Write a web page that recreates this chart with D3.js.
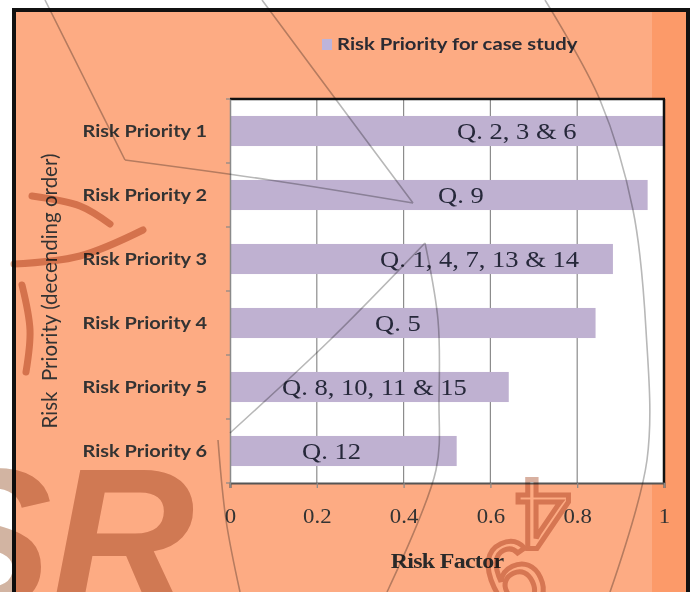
<!DOCTYPE html>
<html>
<head>
<meta charset="utf-8">
<script src="https://cdn.jsdelivr.net/npm/d3@7"></script>
<style>
  html, body { margin: 0; padding: 0; background: #fff; }
  svg { display: block; }
</style>
</head>
<body>
<svg id="chart" width="695" height="592"></svg>
<script>
// Risk priorities and the questionnaire items that fall in each
const categories = ["Risk Priority 1", "Risk Priority 2", "Risk Priority 3",
                    "Risk Priority 4", "Risk Priority 5", "Risk Priority 6"];
const riskFactor = [1.0, 0.96, 0.88, 0.84, 0.64, 0.52];
const questionGroups = ["Q. 2, 3 & 6", "Q. 9", "Q. 1, 4, 7, 13 & 14",
                        "Q. 5", "Q. 8, 10, 11 & 15", "Q. 12"];
const xTickValues = [0, 0.2, 0.4, 0.6, 0.8, 1];
const seriesName = "Risk Priority for case study";
const xTitle = "Risk Factor";
const yTitle = "Risk  Priority (decending order)";

// layout
const W = 695, H = 592;
const plot = { left: 230, right: 664, top: 99, bottom: 483 };
const stretch = 1.14;            // the whole figure is set slightly wide
// hand-placed offsets of each text box from the start of its bar
const labelInset = [227, 208, 150, 145, 52, 72];

const svg = d3.select("#chart");

// place a text at (px, py) widened horizontally about its anchor
function wide(sel, px, py) {
  return sel.attr("x", 0).attr("y", 0)
    .attr("transform", `translate(${px},${py}) scale(${stretch},1)`);
}

// page + chart area
svg.append("rect").attr("width", W).attr("height", H).attr("fill", "#ffffff");
svg.append("rect").attr("x", 14).attr("y", 10).attr("width", 674).attr("height", 620)
  .attr("fill", "#FDAB83").attr("stroke", "#111").attr("stroke-width", 4);
svg.append("rect").attr("x", 652).attr("y", 12).attr("width", 34).attr("height", 600)
  .attr("fill", "#FC9A69");

const x = d3.scaleLinear().domain([0, 1]).range([plot.left, plot.right]);
const y = d3.scaleBand().domain(categories).range([plot.top, plot.bottom])
  .paddingInner(0.53).paddingOuter(0.265);

// plot background
svg.append("rect").attr("x", plot.left).attr("y", plot.top)
  .attr("width", plot.right - plot.left).attr("height", plot.bottom - plot.top)
  .attr("fill", "#ffffff");

// vertical gridlines
svg.append("g").selectAll("line").data(xTickValues.filter(v => v > 0 && v < 1)).join("line")
  .attr("x1", d => x(d)).attr("x2", d => x(d))
  .attr("y1", plot.top).attr("y2", plot.bottom)
  .attr("stroke", "#8c8c8c").attr("stroke-width", 1.2);

// bars
const rows = categories.map((c, i) => ({ c, v: riskFactor[i], q: questionGroups[i], i }));
svg.append("g").selectAll("rect").data(rows).join("rect")
  .attr("x", x(0)).attr("y", d => y(d.c))
  .attr("width", d => x(d.v) - x(0) + 1).attr("height", y.bandwidth())
  .attr("fill", "#BFB1D1");

// question labels inside the bars
svg.append("g").selectAll("text").data(rows).join("text")
  .each(function (d) {
    wide(d3.select(this), x(0) + labelInset[d.i], y(d.c) + y.bandwidth() / 2 + 8);
  })
  .attr("font-family", "'Liberation Serif', 'Times New Roman', serif")
  .attr("font-size", 23.3).attr("fill", "#26283a")
  .text(d => d.q);

// plot frame: dark top/right, grey axis lines left/bottom
svg.append("line").attr("x1", plot.left).attr("x2", plot.right + 1)
  .attr("y1", plot.top).attr("y2", plot.top).attr("stroke", "#111").attr("stroke-width", 2.5);
svg.append("line").attr("x1", plot.right).attr("x2", plot.right)
  .attr("y1", plot.top).attr("y2", plot.bottom).attr("stroke", "#111").attr("stroke-width", 2.5);

// x axis
const xAxis = d3.axisBottom(x).tickValues(xTickValues).tickSize(5).tickPadding(22)
  .tickFormat(d => d === 0 || d === 1 ? String(d) : d3.format(".1f")(d));
const gx = svg.append("g").attr("transform", `translate(0,${plot.bottom})`).call(xAxis);
gx.select(".domain").attr("stroke", "#555").attr("stroke-width", 2);
gx.selectAll(".tick line").attr("stroke", "#888").attr("stroke-width", 1.2);
gx.selectAll(".tick text")
  .attr("dy", null)
  .each(function () { wide(d3.select(this), 0, 40); })
  .attr("font-family", "'Liberation Serif', 'Times New Roman', serif")
  .attr("font-size", 20).attr("fill", "#333");

// y axis: ticks sit on the band boundaries
const yAxis = d3.axisLeft(y).tickSize(0).tickPadding(23);
const gy = svg.append("g").attr("transform", `translate(${plot.left},0)`).call(yAxis);
gy.select(".domain").attr("stroke", "#8a8a8a").attr("stroke-width", 1.5);
gy.selectAll(".tick text")
  .attr("dy", null)
  .each(function () { wide(d3.select(this), -23, 6); })
  .attr("font-family", "Lato, 'Noto Sans', sans-serif").attr("font-weight", "bold")
  .attr("font-size", 17.5).attr("fill", "#333");
const boundaries = categories.map(c => y(c) - y.step() * y.paddingInner() / 2).concat([plot.bottom]);
svg.append("g").selectAll("line").data(boundaries).join("line")
  .attr("x1", plot.left - 4).attr("x2", plot.left)
  .attr("y1", d => d).attr("y2", d => d)
  .attr("stroke", "#888").attr("stroke-width", 1.2);

// axis titles
wide(svg.append("text"), (plot.left + plot.right) / 2, 568)
  .attr("text-anchor", "middle")
  .attr("font-family", "'Liberation Serif', 'Times New Roman', serif").attr("font-weight", "bold")
  .attr("font-size", 21).attr("letter-spacing", -0.6).attr("fill", "#2a2a2a")
  .text(xTitle);
svg.append("text")
  .attr("transform", `translate(57,${(plot.top + plot.bottom) / 2}) rotate(-90)`)
  .attr("text-anchor", "middle")
  .attr("font-family", "Lato, 'Noto Sans', sans-serif")
  .attr("font-size", 20.5).attr("fill", "#333")
  .style("white-space", "pre")
  .text(yTitle);

// legend
const lg = svg.append("g");
lg.append("rect").attr("x", 322).attr("y", 39).attr("width", 10).attr("height", 11).attr("fill", "#BDB4DA");
wide(lg.append("text"), 337, 50)
  .attr("font-family", "Lato, 'Noto Sans', sans-serif").attr("font-weight", "bold")
  .attr("font-size", 17.8).attr("fill", "#2b2b33").text(seriesName);

// faint stamp watermark lying over the page
const wm = svg.append("g").style("mix-blend-mode", "multiply").attr("fill", "none");
const curve = d3.line().curve(d3.curveCatmullRom.alpha(0.5));
const strokes = [
  [[45, 0], [85, 80], [125, 160]],
  [[125, 160], [270, 180], [413, 203]],
  [[262, 0], [340, 105], [413, 203]],
  [[545, 0], [600, 100], [633, 210], [646, 330], [647, 460], [610, 592]],
  [[230, 433], [330, 340], [425, 243]],
  [[425, 243], [438, 320], [439, 400], [436, 470], [387, 592]],
  [[218, 440], [226, 520], [240, 592]]
];
wm.selectAll("path.s").data(strokes).join("path").attr("class", "s")
  .attr("d", d => curve(d)).attr("stroke", "#b8b8b8").attr("stroke-width", 1.6);
const brush = [
  [[32, 196], [80, 206], [110, 224]],
  [[14, 264], [80, 256], [143, 230]],
  [[22, 285], [30, 330], [26, 372]]
];
wm.selectAll("path.b").data(brush).join("path").attr("class", "b")
  .attr("d", d => curve(d)).attr("stroke", "#d6aa94").attr("stroke-width", 7)
  .attr("stroke-linecap", "round");
wm.append("text").attr("x", 50).attr("y", 608)
  .attr("font-family", "'Liberation Sans', Arial, sans-serif").attr("font-weight", "bold")
  .attr("font-style", "italic").attr("font-size", 200).attr("fill", "#d2b4a2")
  .text("R");
wm.append("text").attr("x", 52).attr("y", 608).attr("text-anchor", "end")
  .attr("font-family", "'Liberation Sans', Arial, sans-serif").attr("font-weight", "bold")
  .attr("font-style", "italic").attr("font-size", 200).attr("fill", "#d2b4a2")
  .text("S");
// stamp digits, lying at odd angles
wm.append("text").attr("transform", "translate(543,514) rotate(180)")
  .attr("text-anchor", "middle").attr("dy", "0.35em")
  .attr("font-family", "'Liberation Sans', Arial, sans-serif")
  .attr("font-size", 100).attr("fill", "none").attr("stroke", "#d8b0a0").attr("stroke-width", 5)
  .text("4");
wm.append("text").attr("transform", "translate(514,576) rotate(-25)")
  .attr("text-anchor", "middle").attr("dy", "0.35em")
  .attr("font-family", "'Liberation Sans', Arial, sans-serif")
  .attr("font-size", 100).attr("fill", "none").attr("stroke", "#d8b0a0").attr("stroke-width", 5)
  .text("6");
</script>
</body>
</html>
